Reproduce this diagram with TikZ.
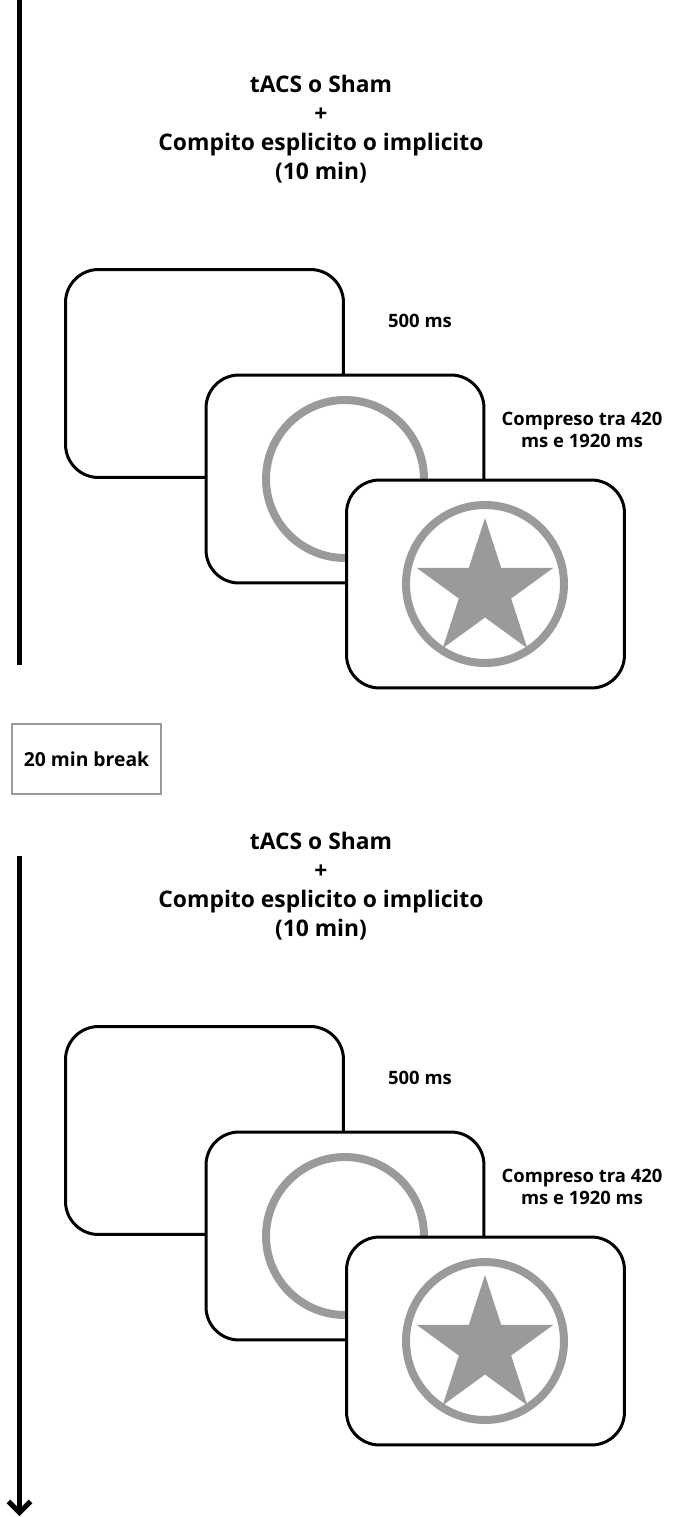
\documentclass[tikz,border=0pt]{standalone}
\usepackage{fontspec}
\setmainfont{Open Sans}
\usepackage{xcolor}
\usetikzlibrary{arrows.meta,positioning,shapes.geometric}
\definecolor{ringgray}{HTML}{9A9A9A}

\begin{document}
\begin{tikzpicture}[
  x=0.02cm, y=-0.02cm,
  screen/.style={draw, fill=white, rounded corners=0.66cm, line width=0.06cm,
                 minimum width=5.56cm, minimum height=4.16cm, inner sep=0pt},
  ring/.style={circle, draw=ringgray, line width=0.16cm, minimum size=3.16cm,
               inner sep=0pt},
  starmark/.style={star, star points=5, star point ratio=2.618, fill=ringgray,
                   minimum size=2.88cm, inner sep=0pt},
  title/.style={align=center, font=\fontsize{13}{16.5}\selectfont\bfseries},
  lbl/.style={align=center, font=\fontsize{10.5}{12.5}\selectfont\bfseries},
  brk/.style={draw=ringgray, line width=0.04cm, minimum width=2.98cm,
              minimum height=1.4cm, font=\fontsize{11}{13}\selectfont\bfseries},
  ar/.style={line width=0.1cm}
]
\useasboundingbox (0,0) rectangle (675,1517);

% ---- Session 1 ---------------------------------------------------------
\coordinate (t1a) at (19.5,0);
\coordinate (t1b) at (19.5,665);
\draw[ar] (t1a) -- (t1b);
\node[title] (head1) at (321,129)
  {tACS o Sham\\+\\Compito esplicito o implicito\\(10 min)};
\node[screen] (fix1) at (204.5,373.5) {};
\node[screen] (cue1) at (345,479) {};
\node[ring] (cring1) at (345,479) {};
\node[screen] (tgt1) at (485.5,584) {};
\node[ring] (tring1) at (485,584) {};
\node[starmark] (star1) at (485,590) {};
\node[lbl] (d1a) at (420,321) {500 ms};
\node[lbl] (d1b) at (582,430) {Compreso tra 420\\ms e 1920 ms};

% ---- Break -------------------------------------------------------------
\node[brk] (pause) at (86.5,759) {20 min break};

% ---- Session 2 ---------------------------------------------------------
\coordinate (t2a) at (19.5,856);
\coordinate (t2b) at (19.5,1516);
\draw[ar, -{Straight Barb[length=0.22cm, width=0.44cm]}] (t2a) -- (t2b);
\node[title] (head2) at (321,886)
  {tACS o Sham\\+\\Compito esplicito o implicito\\(10 min)};
\node[screen] (fix2) at (204.5,1130.5) {};
\node[screen] (cue2) at (345,1236) {};
\node[ring] (cring2) at (345,1236) {};
\node[screen] (tgt2) at (485.5,1341) {};
\node[ring] (tring2) at (485,1341) {};
\node[starmark] (star2) at (485,1347) {};
\node[lbl] (d2a) at (420,1078) {500 ms};
\node[lbl] (d2b) at (582,1187) {Compreso tra 420\\ms e 1920 ms};
\end{tikzpicture}
\end{document}
